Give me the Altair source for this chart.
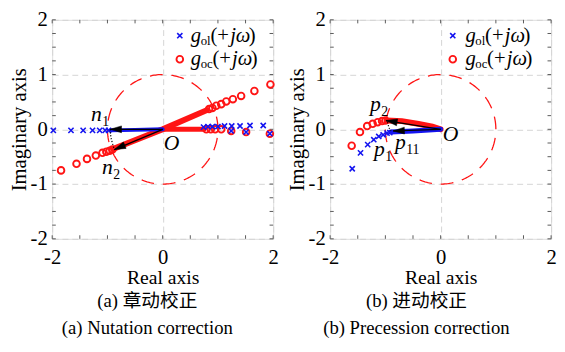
import math
import altair as alt
import pandas as pd
import numpy as np

SERIF = "Liberation Serif"
CAPFONT = "Liberation Serif, Noto Sans CJK SC"
BLUE = "#1414f0"
RED = "#ff1414"
FRAME = "#5a5a5a"
W, H = 225, 223

# ---------------- panel (a) Nutation correction ----------------
a_ol_x = [-1.98, -1.66, -1.44, -1.27, -1.14, -1.04, -0.98,
          0.74, 0.82, 0.90, 1.00, 1.12, 1.25, 1.40, 1.58, 1.82,
          1.24, 1.51, 1.94]
a_ol_y = [-0.02, -0.02, -0.02, -0.02, -0.02, -0.02, -0.02,
          0.04, 0.05, 0.05, 0.05, 0.06, 0.06, 0.06, 0.07, 0.07,
          -0.03, -0.05, -0.08]
a_ol_band_x = [-0.95, -0.50, 0.0]
a_ol_band_y = [-0.02, -0.01, 0.0]

a_oc_x = [-1.84, -1.56, -1.37, -1.21, -1.09, -1.02, -0.96, -0.91,
          0.84, 0.90, 0.97, 1.06, 1.15, 1.27, 1.42, 1.66, 1.95,
          0.79, 0.87, 0.95, 1.06, 1.24, 1.51, 1.94]
a_oc_y = [-0.75, -0.63, -0.54, -0.48, -0.43, -0.41, -0.39, -0.37,
          0.37, 0.39, 0.43, 0.46, 0.51, 0.55, 0.61, 0.70, 0.82,
          0.0, 0.0, 0.0, 0.0, -0.03, -0.05, -0.08]
a_oc_band_x = [-0.90, 0.0, 0.80]
a_oc_band_y = [-0.36, 0.0, 0.35]
a_oc_band2_x = [0.0, 0.75]
a_oc_band2_y = [0.0, 0.0]

a_tip_x = [-0.95, -0.875]
a_tip_y = [0.0, -0.37]
a_dot_x = [-0.95, -0.945, -0.93, -0.905, -0.875]
a_dot_y = [0.0, -0.09, -0.18, -0.27, -0.37]

a_lab_main = ["n", "n", "O"]
a_lab_sub = ["1", "2", ""]
a_lab_x = [-1.20, -1.00, 0.16]
a_lab_y = [0.27, -0.69, -0.25]

# ---------------- panel (b) Precession correction ----------------
b_ol_x = [-1.60, -1.45, -1.32, -1.21, -1.12, -1.04, -0.97, -0.92]
b_ol_y = [-0.72, -0.43, -0.28, -0.19, -0.13, -0.10, -0.07, -0.06]
b_ol_band_x = [-0.90, -0.50, 0.0]
b_ol_band_y = [-0.05, -0.03, 0.0]

b_oc_x = [-1.61, -1.46, -1.33, -1.23, -1.14, -1.06, -1.00]
b_oc_y = [-0.30, -0.05, 0.06, 0.10, 0.13, 0.15, 0.16]
b_oc_band_x = [-0.98, -0.70, -0.40, -0.15, 0.0]
b_oc_band_y = [0.16, 0.15, 0.10, 0.05, 0.0]

b_tip_x = [-0.99, -0.86]
b_tip_y = [0.16, -0.03]
b_dot_x = [-0.96, -0.95, -0.93, -0.90]
b_dot_y = [0.13, 0.08, 0.02, -0.03]

b_lab_main = ["p", "p", "p", "O"]
b_lab_sub = ["2", "1", "11", ""]
b_lab_x = [-1.18, -1.11, -0.73, 0.18]
b_lab_y = [0.46, -0.37, -0.24, -0.08]

# ticks / legend / captions
x_ticks = [-2, -1.5, -1, -0.5, 0, 0.5, 1, 1.5, 2]
y_ticks = [-2, -1.75, -1.5, -1.25, -1, -0.75, -0.5, -0.25, 0,
           0.25, 0.5, 0.75, 1, 1.25, 1.5, 1.75, 2]
legend_sub = ["ol", "oc"]
legend_rows_y = [1.71, 1.28]
a_legend_sym_x, a_legend_txt_x = 0.31, 0.51
b_legend_sym_x, b_legend_txt_x = 0.22, 0.45
a_caption = ["(a) 章动校正", "(a) Nutation correction"]
b_caption = ["(b) 进动校正", "(b) Precession correction"]

# ---------------- helpers ----------------
SCALE_X = alt.Scale(domain=[-2, 2], nice=False, zero=False)
SCALE_Y = alt.Scale(domain=[-2, 2], nice=False, zero=False)
AX_X = alt.Axis(values=[-2, 0, 2], title="Real axis", labelExpr="'' + datum.value",
                titleFont=SERIF, titleFontSize=20, titleFontWeight="normal", titleColor="black",
                labelFont=SERIF, labelFontSize=21, labelColor="black", labelPadding=8,
                titlePadding=1, tickSize=0, domain=False, grid=True, gridColor="#d4d4d4",
                gridDash=[6, 4], gridWidth=1, labelFlush=False)
AX_Y = alt.Axis(values=[-2, -1, 0, 1, 2], title="Imaginary axis", labelExpr="'' + datum.value",
                titleFont=SERIF, titleFontSize=21, titleFontWeight="normal", titleColor="black",
                labelFont=SERIF, labelFontSize=21, labelColor="black", labelPadding=5,
                titlePadding=1, tickSize=0, domain=False, grid=True, gridColor="#d4d4d4",
                gridDash=[6, 4], gridWidth=1, labelFlush=False)


def X(field="x"):
    return alt.X(f"{field}:Q", scale=SCALE_X, axis=AX_X)


def Y(field="y"):
    return alt.Y(f"{field}:Q", scale=SCALE_Y, axis=AX_Y)


XSHAPE = "M-1,-1L1,1M-1,1L1,-1"
ARROW = "M0,0L-0.7,2.3L0.7,2.3Z"


def crosses(xs, ys):
    df = pd.DataFrame({"x": xs, "y": ys})
    return alt.Chart(df).mark_point(shape=XSHAPE, filled=False, stroke=BLUE, strokeWidth=1.6,
                                    size=28, opacity=1).encode(x=X(), y=Y())


def circles(xs, ys):
    df = pd.DataFrame({"x": xs, "y": ys})
    return alt.Chart(df).mark_point(shape="circle", filled=False, stroke=RED, strokeWidth=1.9,
                                    size=46, opacity=1).encode(x=X(), y=Y())


def band(xs, ys, color, width):
    df = pd.DataFrame({"x": xs, "y": ys, "o": list(range(len(xs)))})
    return alt.Chart(df).mark_line(color=color, strokeWidth=width, strokeCap="round").encode(
        x=X(), y=Y(), order="o:O")


def dotted(xs, ys):
    df = pd.DataFrame({"x": xs, "y": ys, "o": list(range(len(xs)))})
    return alt.Chart(df).mark_line(color="black", strokeWidth=1.2, strokeDash=[1.2, 1.8]).encode(
        x=X(), y=Y(), order="o:O")


def arrows(tx, ty):
    ang = []
    for x, y in zip(tx, ty):
        dxp, dyp = x * W / 4, -y * H / 4
        ang.append(math.degrees(math.atan2(dxp, -dyp)) % 360)
    df = pd.DataFrame({"x0": [0.0] * len(tx), "y0": [0.0] * len(tx), "x": tx, "y": ty, "a": ang})
    shafts = alt.Chart(df).mark_rule(color="black", strokeWidth=1.3).encode(
        x=X("x0"), y=Y("y0"), x2="x:Q", y2="y:Q")
    heads = alt.Chart(df).mark_point(shape=ARROW, filled=True, fill="black", stroke="black",
                                     strokeWidth=0.5, size=100, opacity=1).encode(
        x=X(), y=Y(), angle=alt.Angle("a:Q", scale=None))
    return [shafts, heads]


def text(x, y, s, size, italic=False, dx=0, dy=0, align="left"):
    df = pd.DataFrame({"x": [x], "y": [y], "t": [s]})
    return alt.Chart(df).mark_text(font=SERIF, fontSize=size, fontStyle="italic" if italic else "normal",
                                   align=align, baseline="middle", dx=dx, dy=dy, color="black").encode(
        x=X(), y=Y(), text="t:N")


def labels(mains, subs, xs, ys):
    out = []
    for m, s, x, y in zip(mains, subs, xs, ys):
        out.append(text(x, y, m, 22, italic=True, align="center"))
        if s:
            out.append(text(x, y, s, 14, dx=6, dy=8))
    return out


def legend(sym_x, txt_x):
    out = [crosses([sym_x], [legend_rows_y[0]]), circles([sym_x], [legend_rows_y[1]])]
    for sub, y in zip(legend_sub, legend_rows_y):
        out.append(text(txt_x, y, "g", 21, italic=True))
        out.append(text(txt_x, y, sub, 13, dx=10, dy=5))
        off = 20 if sub == "ol" else 22
        out.append(text(txt_x, y, "(+", 21, dx=off))
        out.append(text(txt_x, y, "jω", 21, italic=True, dx=off + 20))
        out.append(text(txt_x, y, ")", 21, dx=off + 39))
    return out


def tick_layers():
    d = 0.065
    bx = pd.DataFrame({"x": x_ticks, "y": [-2.0] * len(x_ticks), "y2": [-2.0 + d] * len(x_ticks)})
    tx = pd.DataFrame({"x": x_ticks, "y": [2.0] * len(x_ticks), "y2": [2.0 - d] * len(x_ticks)})
    ly = pd.DataFrame({"y": y_ticks, "x": [-2.0] * len(y_ticks), "x2": [-2.0 + d] * len(y_ticks)})
    ry = pd.DataFrame({"y": y_ticks, "x": [2.0] * len(y_ticks), "x2": [2.0 - d] * len(y_ticks)})
    out = []
    for df in (bx, tx):
        out.append(alt.Chart(df).mark_rule(color=FRAME, strokeWidth=1).encode(x=X(), y=Y(), y2="y2:Q"))
    for df in (ly, ry):
        out.append(alt.Chart(df).mark_rule(color=FRAME, strokeWidth=1).encode(x=X(), x2="x2:Q", y=Y()))
    return out


def unit_circle():
    th = np.linspace(0, 2 * np.pi, 241)
    df = pd.DataFrame({"x": np.cos(th), "y": np.sin(th), "o": np.arange(len(th))})
    return alt.Chart(df).mark_line(color=RED, strokeWidth=1.3, strokeDash=[13, 9]).encode(
        x=X(), y=Y(), order="o:Q")


def panel(parts, caption, cap_dx):
    layers = [unit_circle()] + tick_layers() + parts
    return alt.layer(*layers).properties(
        width=W, height=H,
        title=alt.TitleParams(text=caption, orient="bottom", font=CAPFONT, fontSize=19,
                              fontWeight="normal", color="black", lineHeight=28, anchor="middle",
                              frame="bounds", offset=4, dx=cap_dx))


pa_parts = ([band(a_oc_band_x, a_oc_band_y, RED, 6), band(a_oc_band2_x, a_oc_band2_y, RED, 5),
             circles(a_oc_x, a_oc_y), band(a_ol_band_x, a_ol_band_y, BLUE, 4),
             crosses(a_ol_x, a_ol_y), dotted(a_dot_x, a_dot_y)]
            + arrows(a_tip_x, a_tip_y)
            + labels(a_lab_main, a_lab_sub, a_lab_x, a_lab_y)
            + legend(a_legend_sym_x, a_legend_txt_x))

pb_parts = ([band(b_oc_band_x, b_oc_band_y, RED, 6), circles(b_oc_x, b_oc_y),
             band(b_ol_band_x, b_ol_band_y, BLUE, 5), crosses(b_ol_x, b_ol_y),
             dotted(b_dot_x, b_dot_y)]
            + arrows(b_tip_x, b_tip_y)
            + labels(b_lab_main, b_lab_sub, b_lab_x, b_lab_y)
            + legend(b_legend_sym_x, b_legend_txt_x))

chart = alt.hconcat(panel(pa_parts, a_caption, 4), panel(pb_parts, b_caption, -5), spacing=7).properties(
    padding={"left": 0, "top": -3, "right": 0, "bottom": -2}
).configure_view(stroke=FRAME, strokeWidth=1.6).configure(background="white")

chart.save("out.html", embed_options={"renderer": "svg", "actions": False})
